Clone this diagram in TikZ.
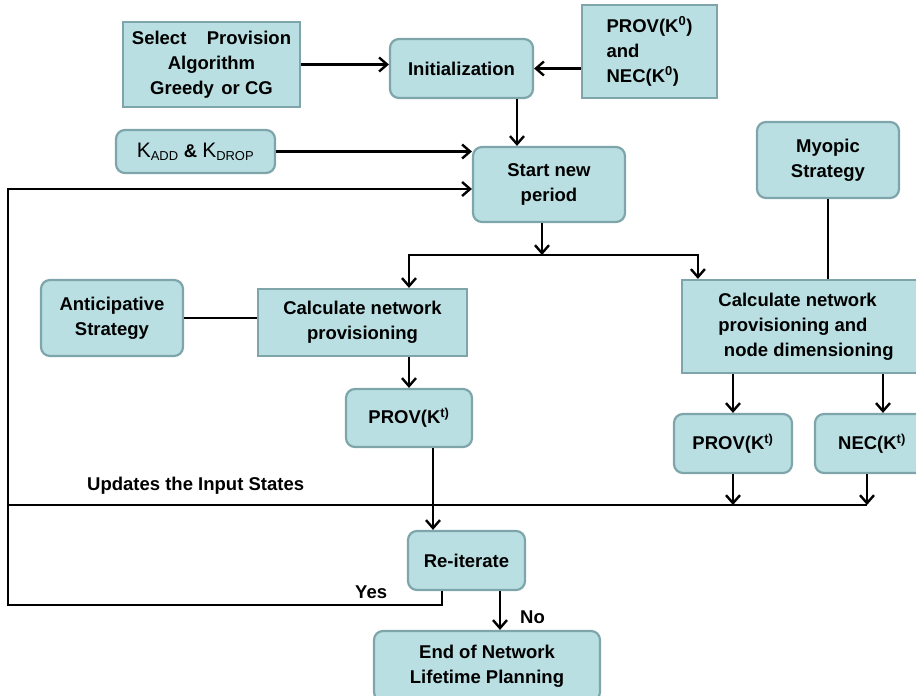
\documentclass[tikz,border=0pt]{standalone}
\usepackage{fontspec}
\setmainfont{Liberation Sans}
\usetikzlibrary{arrows.meta,positioning}
\definecolor{boxfill}{RGB}{185,223,226}
\definecolor{boxline}{RGB}{125,165,170}

\tikzset{
    base/.style={fill=boxfill, draw=boxline, line width=2.2pt, align=center, inner sep=2pt,
        font=\fontsize{18.5}{25}\selectfont\bfseries},
    rbox/.style={base, rounded corners=9pt},
    sbox/.style={base},
    link/.style={line width=2.8pt, black},
    arr/.style={link, -{Straight Barb[length=8pt,width=14pt,line width=2.4pt]}},
    lbl/.style={font=\fontsize{18.5}{25}\selectfont\bfseries, inner sep=0pt}
}

\begin{document}
\begin{tikzpicture}[x=1pt, y=-1pt]

    % 1. 画布范围
    \useasboundingbox (0,0) rectangle (916,696);

    % 2. 顶部：输入与初始化
    \node[sbox, minimum width=177pt, minimum height=85pt] (sel) at (211.5,64.5)
        {Select\hspace{1.1em}Provision\\Algorithm\\Greedy\hspace{0.4em}or CG};
    \node[rbox, minimum width=143pt, minimum height=59pt] (init) at (461.5,68.5) {Initialization};
    \node[sbox, minimum width=135pt, minimum height=93pt, align=left] (kzero) at (649.5,51.5)
        {PROV(K\textsuperscript{0})\\and\\NEC(K\textsuperscript{0})};
    \node[rbox, minimum width=159pt, minimum height=43pt] (kadd) at (195.5,151.5)
        {{\mdseries\fontsize{21}{25}\selectfont K}\textsubscript{\mdseries ADD} \& {\mdseries\fontsize{21}{25}\selectfont K}\textsubscript{\mdseries DROP}};
    \node[rbox, minimum width=152pt, minimum height=75pt] (start) at (549,184.5) {Start new\\period};
    \node[rbox, minimum width=142pt, minimum height=76pt] (myopic) at (828,160) {Myopic\\Strategy};

    % 3. 中部：两种策略的计算
    \node[rbox, minimum width=142pt, minimum height=76pt] (antic) at (112,318) {Anticipative\\Strategy};
    \node[sbox, minimum width=209pt, minimum height=67pt] (calc1) at (362.5,322.5)
        {Calculate network\\provisioning};
    \node[rbox, minimum width=126pt, minimum height=58pt] (provl) at (409,418) {PROV(K\textsuperscript{t)}};
    \node[sbox, minimum width=248pt, minimum height=93pt, align=left] (calc2) at (806,326.5)
        {Calculate network\\provisioning and\\\hspace*{0.3em}node dimensioning};
    \node[rbox, minimum width=118pt, minimum height=59pt] (provr) at (733,443.5) {PROV(K\textsuperscript{t)}};
    \node[rbox, minimum width=114pt, minimum height=59pt] (nec) at (872,443.5) {NEC(K\textsuperscript{t)}};

    % 4. 底部：迭代与结束
    \node[rbox, minimum width=117pt, minimum height=59pt] (reit) at (466.5,560.5) {Re-iterate};
    \node[rbox, minimum width=226pt, minimum height=70pt] (endn) at (487,666)
        {End of Network\\Lifetime Planning};

    % 5. 辅助坐标
    \coordinate (iout) at ([xshift=55.5pt]init.south);
    \coordinate (sdown) at ([xshift=-7pt]start.south);
    \coordinate (bar) at (0,255);
    \coordinate (rdrop) at ([xshift=17pt]calc2.north west);
    \coordinate (necin) at ([xshift=11pt]nec.north);
    \coordinate (necout) at ([xshift=-5pt]nec.south);
    \coordinate (upd) at (8,505);
    \coordinate (pout) at ([xshift=24pt]provl.south);
    \coordinate (yout) at ([xshift=-24.5pt]reit.south);
    \coordinate (ybot) at (8,605);
    \coordinate (ytop) at (8,189);
    \coordinate (nout) at ([xshift=33.5pt]reit.south);

    % 6. 连线
    \draw[arr] (sel.east) -- (sel.east -| init.west);
    \draw[arr] (kzero.west |- init.east) -- (init.east);
    \draw[arr] (iout) -- (iout |- start.north);
    \draw[arr] (kadd.east) -- (kadd.east -| start.west);
    \draw[arr] (sdown) -- (sdown |- bar);
    \draw[arr] (sdown |- bar) -| (provl.north |- calc1.north);
    \draw[arr] (sdown |- bar) -| (rdrop);
    \draw[link] (antic.east) -- (antic.east -| calc1.west);
    \draw[link] (myopic.south) -- (myopic.south |- calc2.north);
    \draw[arr] (provl.north |- calc1.south) -- (provl.north);
    \draw[arr] (provr.north |- calc2.south) -- (provr.north);
    \draw[arr] (necin |- calc2.south) -- (necin);
    \draw[link] (upd) -- (necout |- upd);
    \draw[arr] (provr.south) -- (provr.south |- upd);
    \draw[arr] (necout) -- (necout |- upd);
    \draw[arr] (pout) -- (pout |- reit.north);
    \draw[arr] (yout) |- (ybot) -- (ytop) -- (ytop -| start.west);
    \draw[arr] (nout) -- (nout |- endn.north);

    % 7. 文字标注
    \node[lbl, anchor=base west] (updlbl) at (87,490) {Updates the Input States};
    \node[lbl, anchor=base west] (yes) at (355,598) {Yes};
    \node[lbl, anchor=base west] (no) at (520,623) {No};

\end{tikzpicture}
\end{document}
